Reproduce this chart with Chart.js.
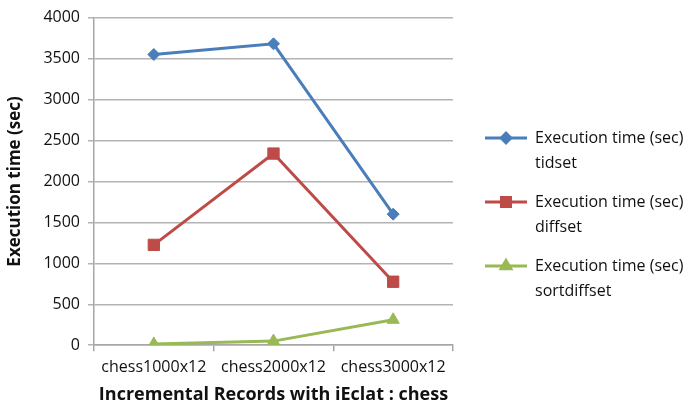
<!DOCTYPE html>
<html>
<head>
<meta charset="utf-8">
<script src="https://cdn.jsdelivr.net/npm/chart.js@4.4.1/dist/chart.umd.min.js"></script>
<style>
  html, body { margin: 0; padding: 0; background: #ffffff; }
  #wrap { width: 689px; height: 408px; }
</style>
</head>
<body>
<div id="wrap"><canvas id="c" width="689" height="408"></canvas></div>
<script>
// Categories and measured execution times (seconds)
const categories = ['chess1000x12', 'chess2000x12', 'chess3000x12'];
const tidset = [3550, 3680, 1600];
const diffset = [1225, 2340, 775];
const sortdiffset = [15, 50, 310];
const seriesNames = [
  ['Execution time (sec)', 'tidset'],
  ['Execution time (sec)', 'diffset'],
  ['Execution time (sec)', 'sortdiffset']
];
const yTicks = [0, 500, 1000, 1500, 2000, 2500, 3000, 3500, 4000];

const FONT = "'Open Sans', 'DejaVu Sans', sans-serif";

// Two-line legend drawn to the right of the plot
const sideLegend = {
  id: 'sideLegend',
  afterDraw(chart) {
    const ctx = chart.ctx;
    const area = chart.chartArea;
    const x0 = area.right + 32;
    const spacing = 64;
    const midY = chart.height / 2 + 10;
    ctx.save();
    chart.data.datasets.forEach((ds, i) => {
      const cy = midY + (i - 1) * spacing;
      const lineY = cy - 12;
      ctx.strokeStyle = ds.borderColor;
      ctx.lineWidth = 3;
      ctx.beginPath();
      ctx.moveTo(x0, lineY);
      ctx.lineTo(x0 + 42, lineY);
      ctx.stroke();
      ctx.fillStyle = ds.backgroundColor;
      ctx.strokeStyle = ds.borderColor;
      Chart.helpers.drawPoint(ctx, {
        pointStyle: ds.pointStyle,
        radius: ds.pointRadius * 0.8,
        rotation: 0,
        borderWidth: 1
      }, x0 + 21, lineY);
      ctx.fillStyle = '#111111';
      ctx.font = '16px ' + FONT;
      ctx.textAlign = 'left';
      ctx.textBaseline = 'middle';
      const lines = seriesNames[i];
      ctx.fillText(lines[0], x0 + 50, lineY);
      ctx.fillText(lines[1], x0 + 50, lineY + 25);
    });
    ctx.restore();
  }
};

const makeSet = (label, data, color, style, r) => ({
  label: label,
  data: data,
  borderColor: color,
  backgroundColor: color,
  pointBackgroundColor: color,
  pointBorderColor: color,
  borderWidth: 3,
  pointBorderWidth: 1,
  pointStyle: style,
  pointRadius: r,
  pointHoverRadius: r,
  tension: 0
});

new Chart(document.getElementById('c'), {
  type: 'line',
  data: {
    labels: categories,
    datasets: [
      makeSet(seriesNames[0].join(' '), tidset, '#4a7ebb', 'rectRot', 6),
      makeSet(seriesNames[1].join(' '), diffset, '#be4b48', 'rect', 8),
      makeSet(seriesNames[2].join(' '), sortdiffset, '#98b954', 'triangle', 7)
    ]
  },
  options: {
    responsive: false,
    animation: false,
    devicePixelRatio: 1,
    layout: { padding: { top: 3, right: 236, bottom: 2, left: 5 } },
    plugins: {
      legend: { display: false },
      tooltip: { enabled: false }
    },
    scales: {
      x: {
        offset: true,
        grid: {
          offset: true,
          drawOnChartArea: false,
          drawTicks: true,
          tickLength: 6,
          color: '#a6a6a6',
          lineWidth: 1.5
        },
        border: { color: '#a6a6a6', width: 1.5 },
        ticks: { color: '#111111', font: { family: FONT, size: 16 }, padding: 7 },
        title: {
          display: true,
          text: 'Incremental Records with iEclat : chess',
          color: '#111111',
          font: { family: FONT, size: 18, weight: 'bold' },
          padding: { top: 0, bottom: 0 }
        }
      },
      y: {
        min: 0,
        max: 4000,
        afterBuildTicks(scale) { scale.ticks = yTicks.map(v => ({ value: v })); },
        grid: {
          color: '#b3b3b3',
          lineWidth: 1.5,
          tickLength: 6
        },
        border: { color: '#a6a6a6', width: 1.5 },
        ticks: {
          color: '#111111',
          font: { family: FONT, size: 16 },
          padding: 8,
          callback: v => String(v)
        },
        title: {
          display: true,
          text: 'Execution time (sec)',
          color: '#111111',
          font: { family: FONT, size: 17, weight: 'bold' },
          padding: { top: 0, bottom: 10 }
        }
      }
    }
  },
  plugins: [sideLegend]
});
</script>
</body>
</html>
